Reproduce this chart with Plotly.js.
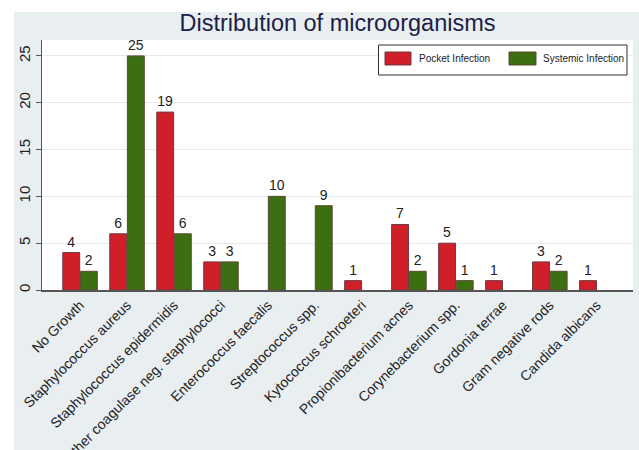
<!DOCTYPE html>
<html>
<head>
<meta charset="utf-8">
<script src="https://cdn.plot.ly/plotly-3.0.1.min.js"></script>
<style>
  html, body { margin: 0; padding: 0; background: #ffffff; width: 639px; height: 450px; overflow: hidden; }
  #chart { position: absolute; left: 0; top: 0; width: 639px; height: 450px; }
</style>
</head>
<body>
<div id="chart"></div>
<script>
const categories = [
  "No Growth",
  "Staphylococcus aureus",
  "Staphylococcus epidermidis",
  "Other coagulase neg. staphylococci",
  "Enterococcus faecalis",
  "Streptococcus spp.",
  "Kytococcus schroeteri",
  "Propionibacterium acnes",
  "Corynebacterium spp.",
  "Gordonia terrae",
  "Gram negative rods",
  "Candida albicans"
];
const seriesNames = ["Pocket Infection", "Systemic Infection"];
const pocketInfection   = [4, 6, 19, 3, null, null, 1, 7, 5, 1, 3, 1];
const systemicInfection = [2, 25, 6, 3, 10, 9, null, 2, 1, null, 2, null];
const yTicks = [0, 5, 10, 15, 20, 25];

const W = 639, H = 450;
const M = { l: 42, r: 6, t: 40, b: 160 };
const PW = W - M.l - M.r, PH = H - M.t - M.b;
// pixel -> paper coordinate helpers (for decoration only)
const px = a => (a - M.l) / PW;
const py = a => (H - M.b - a) / PH;

const RED = "#d01f29", GREEN = "#3b6f12";
const FONT = "Liberation Sans, Arial, sans-serif";

function labels(vals) { return vals.map(v => (v === null ? "" : String(v))); }

const traces = [
  {
    type: "bar", name: seriesNames[0], x: categories, y: pocketInfection,
    text: labels(pocketInfection), textposition: "outside", cliponaxis: false,
    constraintext: "none",
    textfont: { family: FONT, size: 14, color: "#222222" },
    marker: { color: RED, line: { color: "#6a3b40", width: 1 } },
    showlegend: false
  },
  {
    type: "bar", name: seriesNames[1], x: categories, y: systemicInfection,
    text: labels(systemicInfection), textposition: "outside", cliponaxis: false,
    constraintext: "none",
    textfont: { family: FONT, size: 14, color: "#222222" },
    marker: { color: GREEN, line: { color: "#5a4a30", width: 1 } },
    showlegend: false
  }
];

const shapes = [
  // white outer strips (top and left) of the image
  { type: "rect", xref: "paper", yref: "paper", x0: px(0), x1: px(W), y0: py(12), y1: py(0),
    fillcolor: "#ffffff", line: { width: 0 }, layer: "below" },
  { type: "rect", xref: "paper", yref: "paper", x0: px(0), x1: px(14), y0: py(H), y1: py(0),
    fillcolor: "#ffffff", line: { width: 0 }, layer: "below" },
  // legend box
  { type: "rect", xref: "paper", yref: "paper", x0: px(378.5), x1: px(627), y0: py(75), y1: py(45),
    fillcolor: "#ffffff", line: { color: "#333333", width: 1 } },
  // legend swatches
  { type: "rect", xref: "paper", yref: "paper", x0: px(385), x1: px(411), y0: py(65), y1: py(52),
    fillcolor: RED, line: { color: "#6a3b40", width: 1 } },
  { type: "rect", xref: "paper", yref: "paper", x0: px(509), x1: px(536), y0: py(65), y1: py(52),
    fillcolor: GREEN, line: { color: "#5a4a30", width: 1 } }
];

const annotations = [
  { xref: "paper", yref: "paper", x: px(417), y: py(58.5), xanchor: "left", yanchor: "middle",
    text: seriesNames[0], showarrow: false, font: { family: FONT, size: 10, color: "#222222" } },
  { xref: "paper", yref: "paper", x: px(541), y: py(58.5), xanchor: "left", yanchor: "middle",
    text: seriesNames[1], showarrow: false, font: { family: FONT, size: 10, color: "#222222" } }
];

const layout = {
  width: W, height: H,
  margin: M,
  paper_bgcolor: "#e9eef1",
  plot_bgcolor: "#ffffff",
  font: { family: FONT, color: "#222222" },
  title: {
    text: "Distribution of microorganisms",
    font: { size: 23.5, color: "#1c2048", family: FONT },
    x: 0.5, xref: "paper", xanchor: "center",
    y: 1 - 23 / H, yref: "container", yanchor: "middle"
  },
  barmode: "group",
  bargap: 0.25,
  bargroupgap: 0.04,
  xaxis: {
    type: "category",
    range: [-0.81, 11.77],
    tickangle: -45,
    tickfont: { size: 14, color: "#222222" },
    showline: true, linecolor: "#555555", linewidth: 1.5,
    ticks: "", showgrid: false, zeroline: false,
    automargin: false
  },
  yaxis: {
    range: [0, 26.7],
    tickvals: yTicks,
    ticktext: yTicks.map(String),
    tickangle: -90,
    tickfont: { size: 15, color: "#222222" },
    ticks: "outside", ticklen: 5, tickcolor: "#555555",
    showline: true, linecolor: "#555555", linewidth: 1.5,
    showgrid: true, gridcolor: "#e6eaee", gridwidth: 1,
    zeroline: false,
    automargin: false
  },
  shapes: shapes,
  annotations: annotations,
  showlegend: false
};

Plotly.newPlot("chart", traces, layout, { displayModeBar: false, staticPlot: true });
</script>
</body>
</html>
